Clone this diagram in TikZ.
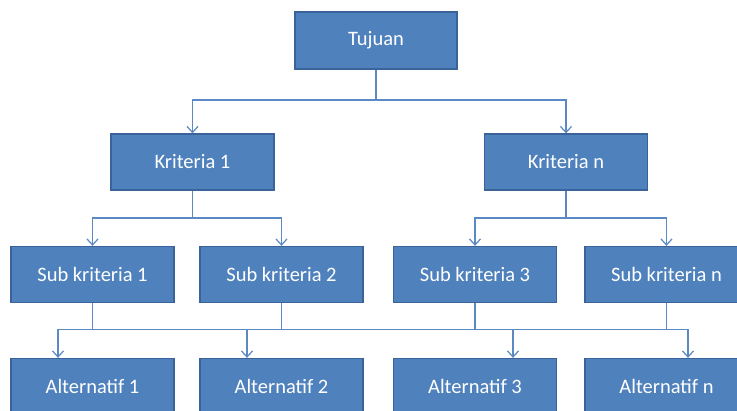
\documentclass[tikz,border=0pt]{standalone}
\usepackage{fontspec}
\setmainfont{Carlito}
\usetikzlibrary{arrows.meta}
\definecolor{boxfill}{HTML}{4F81BD}
\definecolor{boxline}{HTML}{3A6399}
\definecolor{conncol}{HTML}{5A89C4}
\tikzset{
  hbox/.style={rectangle, draw=boxline, line width=1.3pt, fill=boxfill,
    minimum width=163pt, minimum height=56pt, inner sep=0pt,
    text=white, font=\fontsize{20.5}{24}\selectfont},
  conn/.style={draw=conncol, line width=1.4pt},
  arr/.style={conn, -{Straight Barb[length=6pt,width=11pt,line width=1.2pt]}}
}
\begin{document}
\begin{tikzpicture}[x=1pt,y=-1pt]
\useasboundingbox (0,0) rectangle (737,411);
\clip (0,0) rectangle (737,411);
\fill[white] (0,0) rectangle (737,411);
% nodes
\node[hbox, minimum width=162pt, minimum height=57pt] (T) at (376,40.5) {Tujuan};
\node[hbox] (K1) at (192.5,162) {Kriteria 1};
\node[hbox] (Kn) at (566,162) {Kriteria n};
\node[hbox] (S1) at (92.5,274.5) {Sub kriteria 1};
\node[hbox] (S2) at (281.5,274.5) {Sub kriteria 2};
\node[hbox] (S3) at (475,274.5) {Sub kriteria 3};
\node[hbox] (Sn) at (666.5,274.5) {Sub kriteria n};
\node[hbox] (A1) at (92.5,386.5) {Alternatif 1};
\node[hbox] (A2) at (281.5,386.5) {Alternatif 2};
\node[hbox] (A3) at (475,386.5) {Alternatif 3};
\node[hbox] (An) at (666.5,386.5) {Alternatif n};
% level 1
\coordinate (b0) at (376,100);
\draw[arr] (T.south) -- (b0) -| (K1.north);
\draw[arr] (b0) -| (Kn.north);
% level 2
\coordinate (b1) at (192.5,218);
\coordinate (b2) at (566,218);
\draw[arr] (K1.south) -- (b1) -| (S1.north);
\draw[arr] (b1) -| (S2.north);
\draw[arr] (Kn.south) -- (b2) -| (S3.north);
\draw[arr] (b2) -| (Sn.north);
% level 3
\coordinate (p1) at (58,329.5);
\coordinate (p2) at (247,329.5);
\coordinate (p3) at (513,329.5);
\coordinate (p4) at (688,329.5);
\draw[conn] (S1.south) -- (S1.south |- p1);
\draw[conn] (S2.south) -- (S2.south |- p1);
\draw[conn] (S3.south) -- (S3.south |- p1);
\draw[conn] (Sn.south) -- (Sn.south |- p1);
\draw[conn] (p1) -- (p4);
\draw[arr] (p1) -- (p1 |- A1.north);
\draw[arr] (p2) -- (p2 |- A2.north);
\draw[arr] (p3) -- (p3 |- A3.north);
\draw[arr] (p4) -- (p4 |- An.north);
\end{tikzpicture}
\end{document}
